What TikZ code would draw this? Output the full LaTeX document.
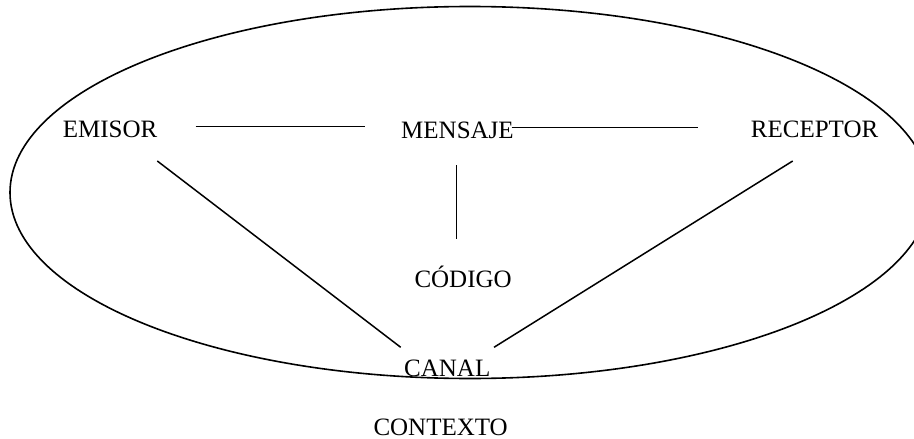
\documentclass[tikz,border=0pt]{standalone}
\usepackage{fontspec}
\setmainfont{Liberation Serif}
\begin{document}
\begin{tikzpicture}[x=1pt,y=-1pt,
  lbl/.style={anchor=base west,inner sep=0pt,font=\fontsize{25}{30}\selectfont},
  conn/.style={line width=1.5pt,black}]
\useasboundingbox (0,0) rectangle (914,439);
\clip (0,0) rectangle (914,439);
\draw[line width=1.6pt] (470,192.5) ellipse [x radius=460, y radius=186];
\node[lbl] (emisor) at (62.7,137.7) {EMISOR};
\node[lbl] (mensaje) at (401,138.3) {MENSAJE};
\node[lbl] (receptor) at (750.7,137.7) {RECEPTOR};
\node[lbl] (codigo) at (414.3,287.7) {CÓDIGO};
\node[lbl] (canal) at (404,376) {CANAL};
\node[lbl] (contexto) at (373.3,435) {CONTEXTO};
\coordinate (em1) at (195.7,126.7);
\coordinate (me1) at (365,126.7);
\coordinate (me2) at (511.7,127.3);
\coordinate (re1) at (698.3,127.3);
\coordinate (me3) at (456.7,165);
\coordinate (co1) at (456.7,239.3);
\coordinate (em2) at (157.3,161);
\coordinate (ca1) at (400.7,347.3);
\coordinate (re2) at (792.7,161);
\coordinate (ca2) at (494,347.3);
\draw[conn] (em1) -- (me1);
\draw[conn] (me2) -- (re1);
\draw[conn] (me3) -- (co1);
\draw[conn] (em2) -- (ca1);
\draw[conn] (re2) -- (ca2);
\end{tikzpicture}
\end{document}
